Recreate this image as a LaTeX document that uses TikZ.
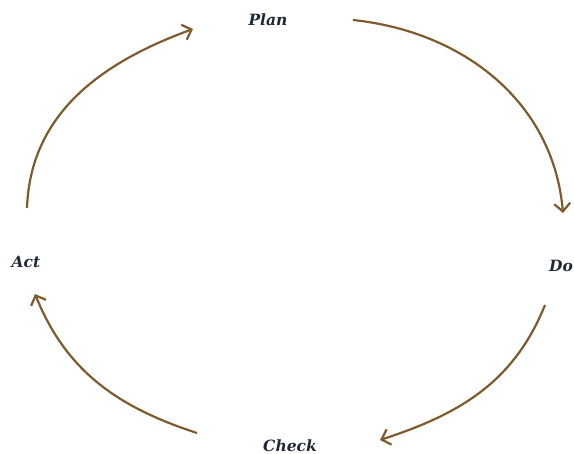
\documentclass[tikz,border=0pt]{standalone}
\usepackage{fontspec}
\setmainfont{DejaVu Serif}
\usetikzlibrary{arrows.meta}
\definecolor{pdcaBrown}{HTML}{7F5A2C}
\definecolor{pdcaInk}{HTML}{1E2A38}
\tikzset{
  pdca arc/.style={draw=pdcaBrown, line width=2.2pt, -{Straight Barb[length=8pt, width=16pt, line width=2.2pt]}},
  pdca label/.style={font=\fontsize{15.5}{18}\selectfont\bfseries\itshape, text=pdcaInk, inner sep=1pt},
}
\begin{document}
\begin{tikzpicture}[x=1pt, y=1pt]
  \useasboundingbox (0,0) rectangle (574,454);

  % Labels
  \node[pdca label] (plan)  at (268,434) {Plan};
  \node[pdca label] (do)    at (561,188) {Do};
  \node[pdca label] (check) at (290,8)   {Check};
  \node[pdca label] (act)   at (26,192)  {Act};

  % Arc ends
  \coordinate (plan out)  at (353,434);
  \coordinate (do in)     at (563,241);
  \coordinate (do out)    at (545,149);
  \coordinate (check in)  at (380,14);
  \coordinate (check out) at (197,21);
  \coordinate (act in)    at (35,160);
  \coordinate (act out)   at (27,246);
  \coordinate (plan in)   at (193,425);

  % Cycle
  \draw[pdca arc] (plan out)  to[out=-6, in=95]   (do in);
  \draw[pdca arc] (do out)    to[out=-112, in=18] (check in);
  \draw[pdca arc] (check out) to[out=162, in=-68] (act in);
  \draw[pdca arc] (act out)   to[out=88, in=200]  (plan in);
\end{tikzpicture}
\end{document}
